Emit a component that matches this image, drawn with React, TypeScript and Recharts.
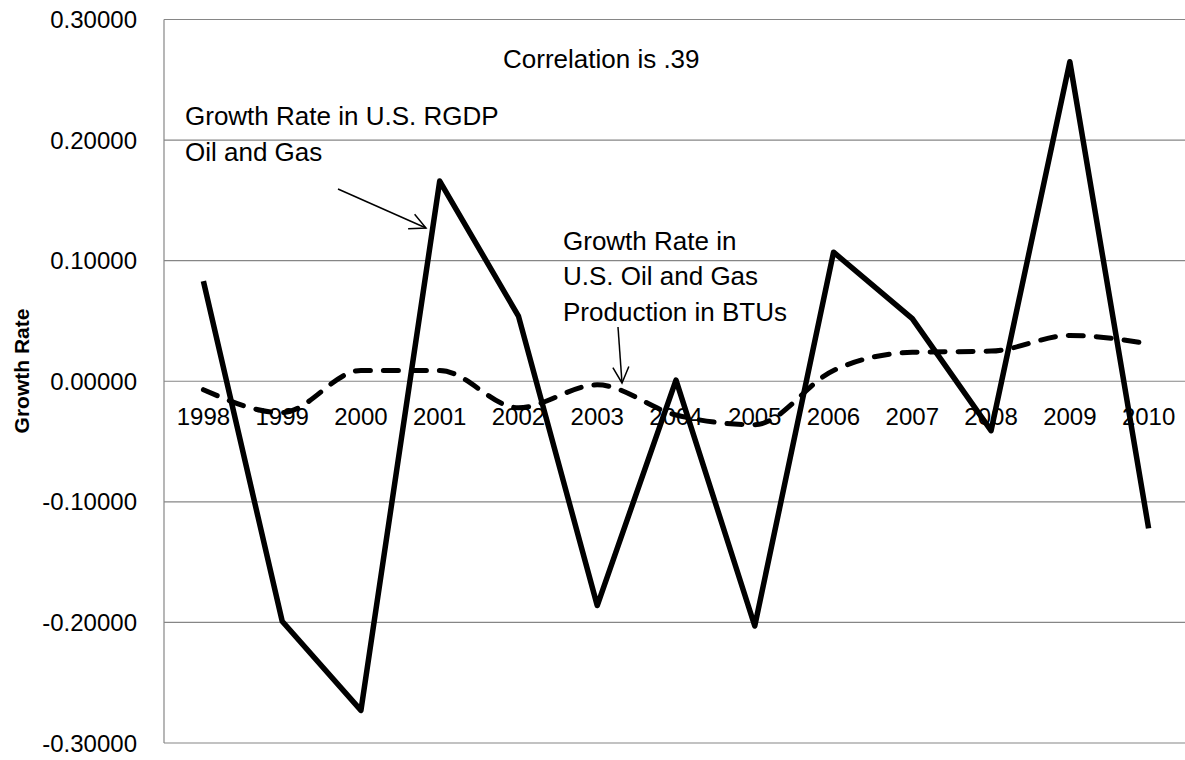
import { LineChart, Line, XAxis, YAxis, CartesianGrid } from 'recharts'

// Growth rates, 1998–2010
const years = ['1998', '1999', '2000', '2001', '2002', '2003', '2004', '2005', '2006', '2007', '2008', '2009', '2010']
const rgdpGrowth = [0.083, -0.199, -0.273, 0.166, 0.054, -0.186, 0.001, -0.203, 0.107, 0.052, -0.041, 0.265, -0.122]
const btuGrowth = [-0.007, -0.026, 0.009, 0.009, -0.022, -0.003, -0.028, -0.036, 0.009, 0.024, 0.025, 0.038, 0.031]
const yTicks = [-0.3, -0.2, -0.1, 0, 0.1, 0.2, 0.3]

const FONT = '"Liberation Sans", Arial, sans-serif'
const GRID = '#868686'

const CHART_W = 1200
const CHART_H = 760
const X_AXIS_H = 17
const MARGIN = { top: 19.5, right: 12, bottom: 0, left: 0 }
// domain is symmetric, so the zero line is the middle of the plot
const zeroY = MARGIN.top + (CHART_H - MARGIN.top - MARGIN.bottom - X_AXIS_H) / 2

const data = years.map((year, i) => ({ year, rgdp: rgdpGrowth[i], btu: btuGrowth[i] }))

// Excel puts the category labels just under the axis crossing at 0
const YearTick = (props: any) => {
  const { x, payload } = props
  return (
    <text x={x} y={zeroY + 43.5} textAnchor="middle" fill="#000" fontSize={24} fontFamily={FONT}>
      {payload.value}
    </text>
  )
}

export default function App() {
  return (
    <div style={{ position: 'absolute', left: 0, top: 0, width: 1185, height: 760, overflow: 'hidden', background: '#fff' }}>
      <LineChart width={CHART_W} height={CHART_H} data={data} margin={MARGIN}>
        <CartesianGrid vertical={false} stroke={GRID} strokeWidth={1.2} />
        <XAxis
          dataKey="year"
          height={X_AXIS_H}
          padding={{ left: 39.4, right: 39.4 }}
          axisLine={false}
          tickLine={false}
          interval={0}
          tick={YearTick}
        />
        <YAxis
          domain={[-0.3, 0.3]}
          ticks={yTicks}
          width={164}
          tickLine={false}
          tickSize={0}
          tickMargin={27}
          axisLine={{ stroke: GRID, strokeWidth: 1.2 }}
          tick={{ fill: '#000', fontSize: 24, fontFamily: FONT }}
          tickFormatter={(v: number) => v.toFixed(5)}
        />
        <Line
          type="monotone"
          dataKey="btu"
          stroke="#000"
          strokeWidth={5}
          strokeDasharray="15 13"
          strokeLinecap="round"
          dot={false}
          isAnimationActive={false}
        />
        <Line
          type="linear"
          dataKey="rgdp"
          stroke="#000"
          strokeWidth={5.5}
          strokeLinejoin="round"
          dot={false}
          isAnimationActive={false}
        />
      </LineChart>

      <svg width={1185} height={760} style={{ position: 'absolute', left: 0, top: 0, pointerEvents: 'none' }}>
        <defs>
          <marker id="openArrow" markerUnits="userSpaceOnUse" markerWidth={20} markerHeight={20} refX={18} refY={10} orient="auto">
            <path d="M2,2 L18,10 L2,18" fill="none" stroke="#000" strokeWidth={1.5} />
          </marker>
        </defs>
        <text
          transform="translate(29,371) rotate(-90)"
          textAnchor="middle"
          fontFamily={FONT}
          fontWeight="bold"
          fontSize={21}
          fill="#000"
        >
          Growth Rate
        </text>
        <g fontFamily={FONT} fontSize={26} fill="#000">
          <text x={503} y={68}>Correlation is .39</text>
          <text x={185} y={125}>Growth Rate in U.S. RGDP</text>
          <text x={185} y={161}>Oil and Gas</text>
          <text x={563} y={250}>Growth Rate in</text>
          <text x={563} y={285}>U.S. Oil and Gas</text>
          <text x={563} y={321}>Production in BTUs</text>
        </g>
        <line x1={338} y1={189} x2={426} y2={228} stroke="#000" strokeWidth={1.5} markerEnd="url(#openArrow)" />
        <line x1={618} y1={327} x2={622} y2={383} stroke="#000" strokeWidth={1.5} markerEnd="url(#openArrow)" />
      </svg>
    </div>
  )
}
